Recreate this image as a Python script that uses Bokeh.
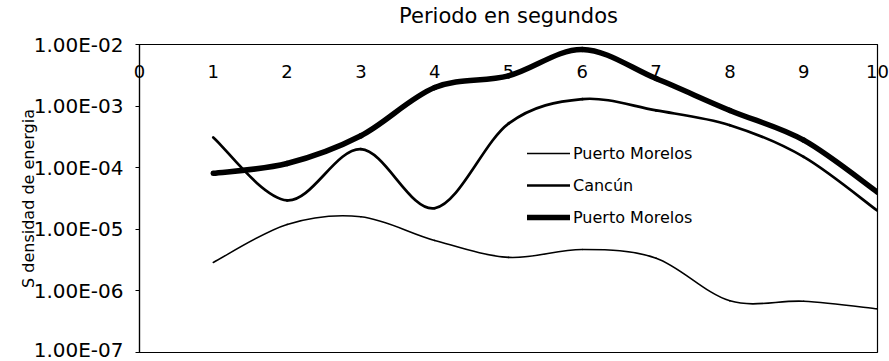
import numpy as np
from bokeh.plotting import figure
from bokeh.models import Range1d, FixedTicker, CustomJSTickFormatter, Legend, LegendItem
from bokeh.embed import file_html
from bokeh.resources import INLINE

# ---- data ----
periods = [1, 2, 3, 4, 5, 6, 7, 8, 9, 10]
puerto_morelos_thin = [2.9e-6, 1.2e-5, 1.6e-5, 6.6e-6, 3.5e-6, 4.7e-6, 3.4e-6, 6.9e-7, 6.8e-7, 5.1e-7]
cancun = [3.1e-4, 2.95e-5, 2.0e-4, 2.2e-5, 5.2e-4, 1.3e-3, 8.5e-4, 4.9e-4, 1.5e-4, 2.0e-5]
puerto_morelos_thick = [8.1e-5, 1.17e-4, 3.3e-4, 2.0e-3, 3.1e-3, 8.3e-3, 2.8e-3, 8.5e-4, 2.8e-4, 4.0e-5]
series_labels = ["Puerto Morelos", "Cancún", "Puerto Morelos"]
xticks = [0, 1, 2, 3, 4, 5, 6, 7, 8, 9, 10]
yticks = [1e-7, 1e-6, 1e-5, 1e-4, 1e-3, 1e-2]

FONT = "DejaVu Sans"


def smooth_segments(xs, ys):
    """Excel-like smoothed line: cubic Bezier control points (Catmull-Rom, 1/6)."""
    x = np.asarray(xs, dtype=float)
    ly = np.log10(np.asarray(ys, dtype=float))
    n = len(x)
    cx0, cy0, cx1, cy1 = [], [], [], []
    for i in range(n - 1):
        a = i - 1 if i > 0 else i
        d = i + 2 if i + 2 < n else i + 1
        cx0.append(x[i] + (x[i + 1] - x[a]) / 6.0)
        cy0.append(10 ** (ly[i] + (ly[i + 1] - ly[a]) / 6.0))
        cx1.append(x[i + 1] - (x[d] - x[i]) / 6.0)
        cy1.append(10 ** (ly[i + 1] - (ly[d] - ly[i]) / 6.0))
    return dict(x0=list(x[:-1]), y0=list(ys[:-1]), x1=list(x[1:]), y1=list(ys[1:]),
                cx0=cx0, cy0=cy0, cx1=cx1, cy1=cy1)


p = figure(width=889, height=361,
           x_range=Range1d(0, 10), y_range=Range1d(1e-7, 1e-2),
           y_axis_type="log", x_axis_location="above",
           output_backend="svg", toolbar_location=None,
           min_border_left=139, min_border_top=44, min_border_right=12, min_border_bottom=9)

p.background_fill_color = "white"
p.border_fill_color = "white"
p.outline_line_color = "black"
p.outline_line_width = 1.2
p.xgrid.visible = False
p.ygrid.visible = False

# x axis (top, labels inside the frame)
xa = p.xaxis[0]
xa.ticker = FixedTicker(ticks=xticks)
xa.axis_label = "Periodo en segundos"
xa.axis_label_text_font = FONT
xa.axis_label_text_font_size = "21px"
xa.axis_label_text_font_style = "normal"
xa.axis_label_text_color = "black"
xa.axis_label_standoff = 34
xa.major_label_text_font = FONT
xa.major_label_text_font_size = "18px"
xa.major_label_text_color = "black"
xa.major_label_standoff = -33
xa.major_tick_line_color = None
xa.major_tick_out = 0
xa.major_tick_in = 0
xa.minor_tick_line_color = None
xa.axis_line_color = "black"
xa.axis_line_width = 1.2

# y axis (log)
ya = p.yaxis[0]
ya.ticker = FixedTicker(ticks=yticks)
ya.formatter = CustomJSTickFormatter(code="""
const s = tick.toExponential(2).toUpperCase();
return s.replace(/E([+-])(\\d)$/, (m, a, b) => "E" + a + "0" + b);
""")
ya.axis_label = "S densidad de energia"
ya.axis_label_text_font = FONT
ya.axis_label_text_font_size = "16px"
ya.axis_label_text_font_style = "normal"
ya.axis_label_text_color = "black"
ya.axis_label_standoff = -7
ya.major_label_text_font = FONT
ya.major_label_text_font_size = "20px"
ya.major_label_text_color = "black"
ya.major_label_standoff = 12
ya.major_tick_out = 4
ya.major_tick_in = 0
ya.major_tick_line_color = "black"
ya.minor_tick_line_color = None
ya.axis_line_color = "black"
ya.axis_line_width = 1.2

r1 = p.bezier(**smooth_segments(periods, puerto_morelos_thin),
              line_color="black", line_width=1.6, line_cap="round")
r2 = p.bezier(**smooth_segments(periods, cancun),
              line_color="black", line_width=2.7, line_cap="round")
r3 = p.bezier(**smooth_segments(periods, puerto_morelos_thick),
              line_color="black", line_width=5.5, line_cap="round")

legend = Legend(items=[LegendItem(label=series_labels[0], renderers=[r1]),
                       LegendItem(label=series_labels[1], renderers=[r2]),
                       LegendItem(label=series_labels[2], renderers=[r3])],
                location=(388, 125), padding=0, margin=0, spacing=12,
                glyph_width=43, glyph_height=20, label_height=20, label_standoff=3,
                label_text_font=FONT, label_text_font_size="16px", label_text_color="black",
                border_line_color=None, background_fill_alpha=0)
p.add_layout(legend, "center")

open("out.html", "w").write(file_html(p, INLINE))
